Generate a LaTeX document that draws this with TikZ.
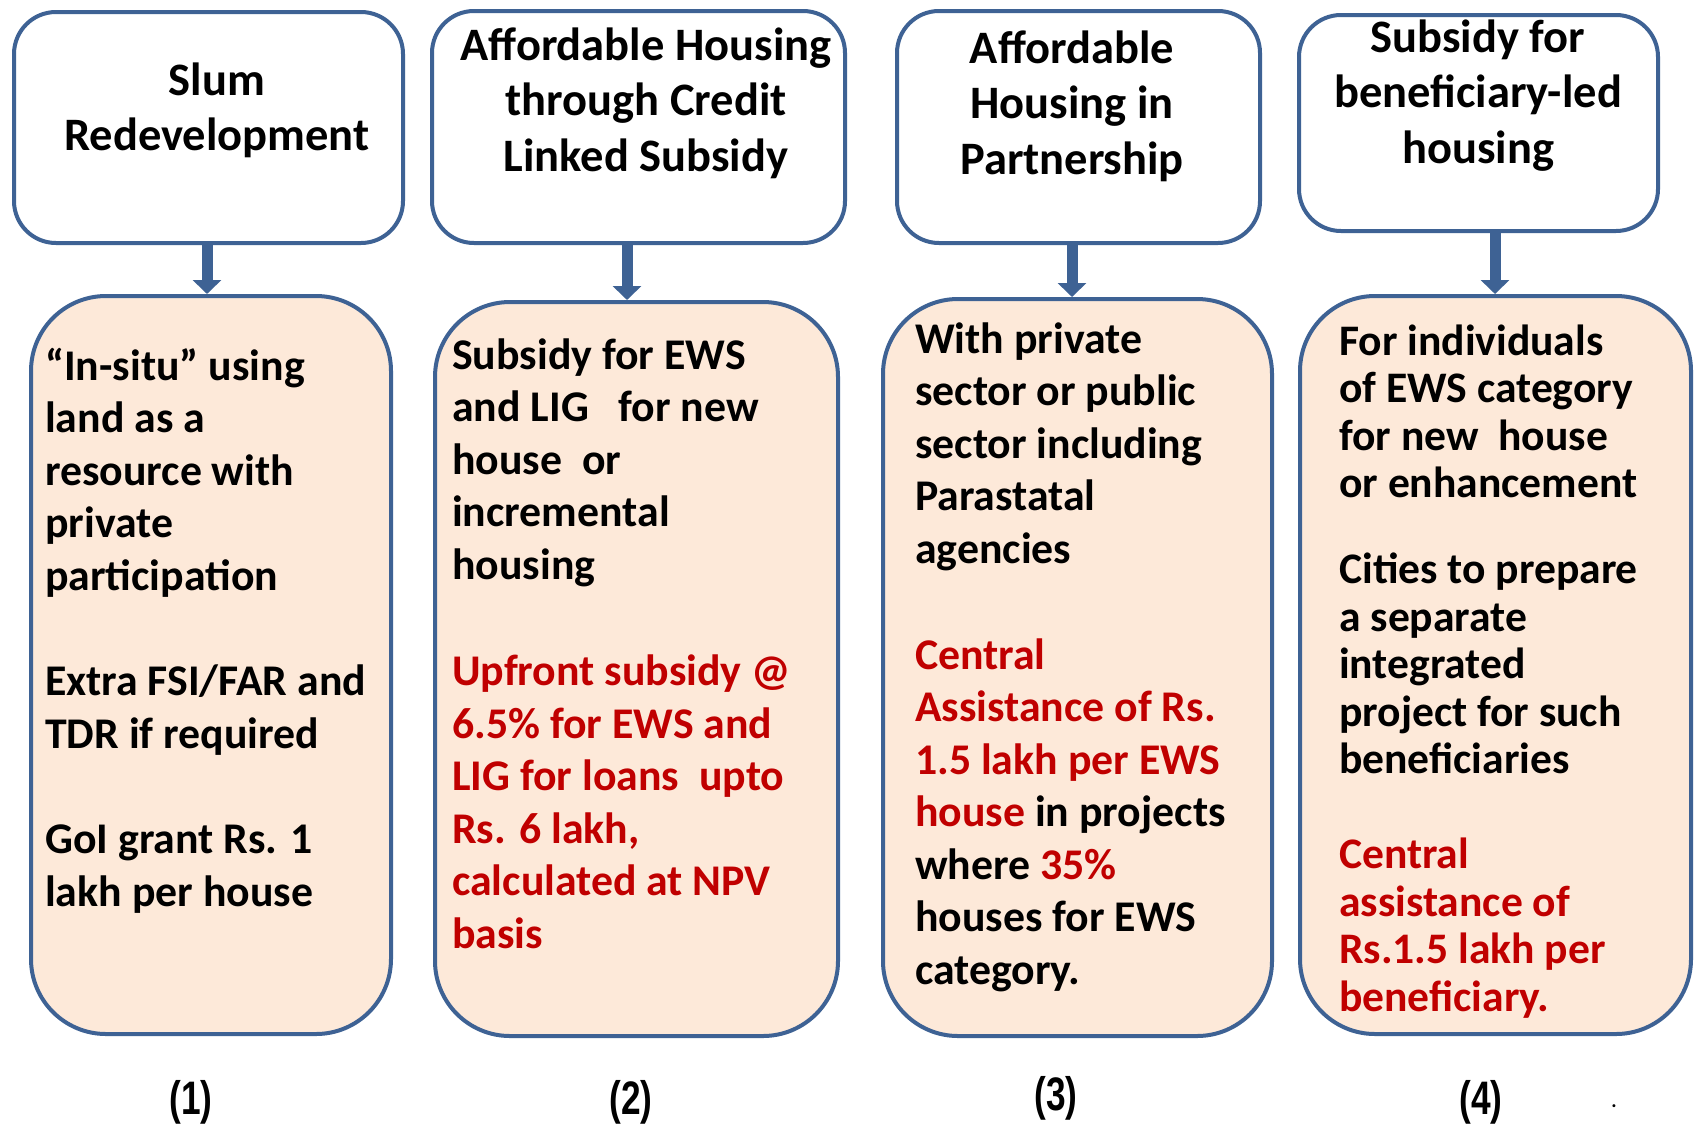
\documentclass[tikz,border=0pt]{standalone}
\usepackage{fontspec}
\setmainfont{Carlito}
\newfontfamily\narrowfont[FakeStretch=0.75]{Liberation Sans}
\usetikzlibrary{arrows.meta}
\definecolor{edgeblue}{RGB}{62,98,148}
\definecolor{peach}{RGB}{253,233,217}
\definecolor{darkred}{RGB}{192,0,0}
\newcommand\redtxt[1]{\textcolor{darkred}{#1}}
\begin{document}
\begin{tikzpicture}[x=1pt,y=-1pt,
 topbox/.style={draw=edgeblue, line width=4pt, rounded corners=42pt, fill=white, inner sep=0pt},
 botbox/.style={draw=edgeblue, line width=4pt, rounded corners=75pt, fill=peach, inner sep=0pt},
 toptext/.style={anchor=north, align=center, inner sep=0pt, font=\bfseries\fontsize{46.5pt}{55.5pt}\selectfont},
 bodytext/.style={anchor=north west, align=left, inner sep=0pt, font=\bfseries\fontsize{43.8pt}{52.5pt}\selectfont},
 bodytextb/.style={anchor=north west, align=left, inner sep=0pt, font=\bfseries\fontsize{43.6pt}{47.5pt}\selectfont},
 flow/.style={draw=edgeblue, line width=11pt, -{Triangle[width=28pt,length=14pt]}},
 numlabel/.style={inner sep=0pt, font=\narrowfont\bfseries\fontsize{47pt}{55pt}\selectfont}
]
\useasboundingbox (0,0) rectangle (1696,1125);
\fill[white] (0,0) rectangle (1696,1125);

% top boxes
\node[topbox, minimum width=389pt, minimum height=231pt] (t1) at (208.5,127.5) {};
\node[topbox, minimum width=413pt, minimum height=232pt] (t2) at (638.5,127) {};
\node[topbox, minimum width=363pt, minimum height=232pt] (t3) at (1078.5,127) {};
\node[topbox, minimum width=359pt, minimum height=216pt] (t4) at (1478.5,123) {};

% bottom boxes
\node[botbox, minimum width=360pt, minimum height=738pt] (b1) at (211,665) {};
\node[botbox, minimum width=403pt, minimum height=734pt] (b2) at (636.5,669) {};
\node[botbox, minimum width=389pt, minimum height=737pt] (b3) at (1077.5,667.5) {};
\node[botbox, minimum width=391pt, minimum height=738pt] (b4) at (1495.5,665) {};

% arrows
\draw[flow] ([xshift=-1.5pt]t1.south) -- ([xshift=-1.5pt]t1.south |- b1.north);
\draw[flow] ([xshift=-11.5pt]t2.south) -- ([xshift=-11.5pt]t2.south |- b2.north);
\draw[flow] ([xshift=-6.5pt]t3.south) -- ([xshift=-6.5pt]t3.south |- b3.north);
\draw[flow] ([xshift=16.5pt]t4.south) -- ([xshift=16.5pt]t4.south |- b4.north);

% headings
\node[toptext] (h1) at (217,56.15) {\strut Slum\\Redevelopment};
\node[toptext] (h2) at (646,21.15) {\strut Affordable Housing\\through Credit\\Linked Subsidy};
\node[toptext] (h3) at (1072,24.15) {\strut Affordable\\Housing in\\Partnership};
\node[toptext] (h4) at (1478,13.15) {\strut Subsidy for\\beneficiary-led\\housing};

% body texts
\node[bodytext] (p1) at (45,343.25) {\strut “In-situ” using\\land as a\\resource with\\private\\participation\\[53pt]Extra FSI/FAR and\\TDR if required\\[53pt]GoI grant Rs. 1\\lakh per house};
\node[bodytext] (p2) at (452,332.25) {\strut Subsidy for EWS\\and LIG\ \ \ for new\\house\ \ or\\incremental\\housing\\[54pt]\redtxt{Upfront subsidy @}\\\redtxt{6.5\% for EWS and}\\\redtxt{LIG for loans\ \ upto}\\\redtxt{Rs. 6 lakh,}\\\redtxt{calculated at NPV}\\\redtxt{basis}};
\node[bodytext] (p3) at (915,316.25) {\strut With private\\sector or public\\sector including\\Parastatal\\agencies\\[53.5pt]\redtxt{Central}\\\redtxt{Assistance of Rs.}\\\redtxt{1.5 lakh per EWS}\\\redtxt{house} in projects\\where \redtxt{35\%}\\houses for EWS\\category.};
\node[bodytextb] (p4) at (1339,321.75) {\strut For individuals\\of EWS category\\for new\ \ house\\or enhancement\\[38.5pt]Cities to prepare\\a separate\\integrated\\project for such\\beneficiaries\\[47.5pt]\redtxt{Central}\\\redtxt{assistance of}\\\redtxt{Rs.1.5 lakh per}\\\redtxt{beneficiary.}};

% numbers
\node[numlabel] (l1) at (191,1102) {(1)};
\node[numlabel] (l2) at (631,1102) {(2)};
\node[numlabel] (l3) at (1056,1098) {(3)};
\node[numlabel] (l4) at (1481,1102) {(4)};
\node[inner sep=0pt, font=\bfseries\fontsize{20pt}{24pt}\selectfont] (dot) at (1614,1106) {.};
\end{tikzpicture}
\end{document}
